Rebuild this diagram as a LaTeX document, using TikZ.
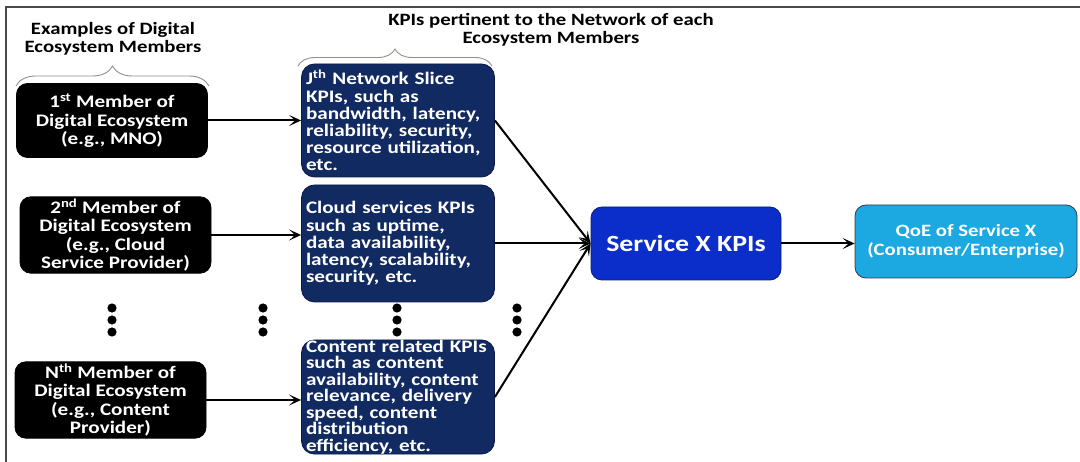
\documentclass[tikz,border=0pt]{standalone}
\usepackage{fontspec}
\setmainfont{Carlito}[FakeStretch=1.2]
\usetikzlibrary{arrows.meta,decorations.pathreplacing,calc}
\definecolor{navykpi}{HTML}{112A62}
\definecolor{navyedge}{HTML}{0A1A45}
\definecolor{svcblue}{HTML}{0B2ECB}
\definecolor{svcedge}{HTML}{0A1F70}
\definecolor{qoecyan}{HTML}{1CA8E0}
\definecolor{qoeedge}{HTML}{2F3A45}
\definecolor{framegray}{HTML}{4A4A4A}
\definecolor{bracegray}{HTML}{909090}
\begin{document}
\begin{tikzpicture}[x=1pt,y=-1pt,
  every node/.style={font=\bfseries},
  heading/.style={align=center, inner sep=0pt, text=black,
    font=\bfseries\fontsize{17.3}{18}\selectfont},
  memberbox/.style={draw=black, fill=black, rounded corners=11pt, line width=0.8pt,
    minimum width=191pt, minimum height=74pt, align=center, inner sep=2pt, text=white,
    font=\bfseries\fontsize{17.6}{18.3}\selectfont},
  kpibox/.style={draw=navyedge, fill=navykpi, rounded corners=13pt, line width=0.8pt,
    text width=184pt, inner xsep=4.5pt, inner ysep=0pt, align=left, text=white,
    font=\bfseries\fontsize{17.6}{17.2}\selectfont},
  svcbox/.style={draw=svcedge, fill=svcblue, rounded corners=11pt, line width=0.8pt,
    minimum width=190pt, minimum height=73pt, align=center, text=white,
    font=\bfseries\fontsize{23.2}{26}\selectfont},
  qoebox/.style={draw=qoeedge, fill=qoecyan, rounded corners=11pt, line width=0.8pt,
    minimum width=222pt, minimum height=73pt, align=center, text=white,
    font=\bfseries\fontsize{17.3}{19}\selectfont},
  conn/.style={draw=black, line width=2pt,
    -{Stealth[length=12pt,width=11pt,inset=6pt]}},
  bracket/.style={draw=bracegray, line width=0.9pt,
    decoration={brace, amplitude=#1}, decorate},
  dot/.style={fill=black}
]
\useasboundingbox (0,0) rectangle (1080,462);

% outer frame (top and left edges)
\draw[framegray, line width=1.4pt] (1080,7) -- (6,7) -- (6,462);

% column headings
\node[heading] (h1) at (113,39) {Examples of Digital\\Ecosystem Members};
\node[heading] (h2) at (551,30) {KPIs pertinent to the Network of each\\Ecosystem Members};

% braces under the headings
\draw[bracket=20pt] (16,86) -- (209,86);
\draw[bracket=17pt] (298,66) -- (492,66);

% ecosystem members
\node[memberbox] (m1) at (112,120.5) {1\textsuperscript{st} Member of\\Digital Ecosystem\\(e.g., MNO)};
\node[memberbox] (m2) at (115.5,235) {2\textsuperscript{nd} Member of\\Digital Ecosystem\\(e.g., Cloud\\Service Provider)};
\node[memberbox] (mN) at (110.5,400) {N\textsuperscript{th} Member of\\Digital Ecosystem\\(e.g., Content\\Provider)};

% KPI groups
\node[kpibox, minimum height=113pt] (kA) at (398,120.5) {J\textsuperscript{th} Network Slice\\KPIs, such as\\bandwidth, latency,\\reliability, security,\\resource utilization,\\etc.};
\node[kpibox, minimum height=117pt] (kB) at (398,243.5) {Cloud services KPIs\\such as uptime,\\data availability,\\latency, scalability,\\security, etc.};
\node[kpibox, minimum height=114pt, font=\bfseries\fontsize{17.6}{16.5}\selectfont] (kC) at (398,397) {Content related KPIs\\such as content\\availability, content\\relevance, delivery\\speed, content\\distribution\\efficiency, etc.};

% aggregated KPIs and QoE
\node[svcbox] (svc) at (686,243.5) {Service X KPIs};
\node[qoebox] (qoe) at (966,241.5) {QoE of Service X\\(Consumer/Enterprise)};

% ellipsis dots
\foreach \cx in {112,263,397,517}
  \foreach \cy in {308,320,332}
    \fill[dot] (\cx,\cy) circle (4.6pt);

% connectors
\draw[conn] (m1.east) -- (m1.east -| kA.west);
\draw[conn] (m2.east) -- (m2.east -| kB.west);
\draw[conn] (mN.east) -- (mN.east -| kC.west);
\draw[conn] (kA.east) -- (svc.west);
\draw[conn] (kB.east) -- (svc.west);
\draw[conn] (kC.east) -- (svc.west);
\draw[conn] (svc.east) -- (svc.east -| qoe.west);
\end{tikzpicture}
\end{document}
